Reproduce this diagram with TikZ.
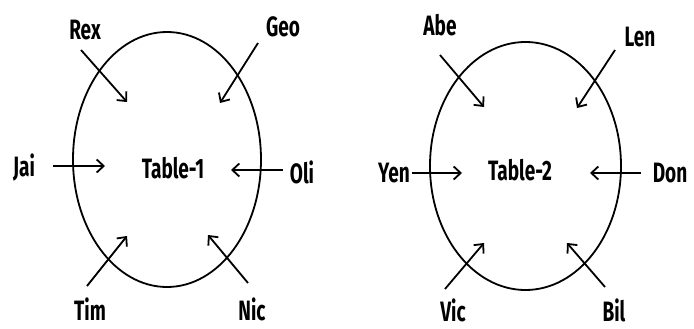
\documentclass[tikz,border=0pt]{standalone}
\usepackage{fontspec}
\newfontfamily\labfont[FakeStretch=0.68]{Fira Sans}
\usetikzlibrary{arrows.meta}
\begin{document}
\begin{tikzpicture}[x=1pt,y=-1pt,
  lab/.style={font=\labfont\bfseries\fontsize{28}{28}\selectfont, inner sep=0pt},
  seat/.style={line width=1.8pt, -{Straight Barb[length=7pt,width=13pt,line width=1.8pt]}}]
\useasboundingbox (0,0) rectangle (694,329);
% Table 1
\draw[line width=1.8pt] (167,159.5) ellipse [x radius=94, y radius=127.5];
\node[lab] (t1) at (173,168) {Table-1};
\node[lab] (rex) at (85,30) {Rex};
\node[lab] (geo) at (283,27) {Geo};
\node[lab] (jai) at (24,168) {Jai};
\node[lab] (oli) at (302,172) {Oli};
\node[lab] (tim) at (90,309) {Tim};
\node[lab] (nic) at (252,309) {Nic};
\coordinate (rexa) at (81,50);  \coordinate (rexb) at (127,102);
\coordinate (geoa) at (258,43); \coordinate (geob) at (220,103);
\coordinate (jaia) at (53,166); \coordinate (jaib) at (105,166);
\coordinate (olia) at (283,170);\coordinate (olib) at (231,170);
\coordinate (tima) at (87,286); \coordinate (timb) at (127,236);
\coordinate (nica) at (248,283);\coordinate (nicb) at (208,235);
\draw[seat] (rexa) -- (rexb);
\draw[seat] (geoa) -- (geob);
\draw[seat] (jaia) -- (jaib);
\draw[seat] (olia) -- (olib);
\draw[seat] (tima) -- (timb);
\draw[seat] (nica) -- (nicb);
% Table 2
\draw[line width=1.8pt] (525.5,166) ellipse [x radius=95.5, y radius=124];
\node[lab] (t2) at (520,170) {Table-2};
\node[lab] (abe) at (440,25) {Abe};
\node[lab] (len) at (640,37) {Len};
\node[lab] (yen) at (394,173) {Yen};
\node[lab] (don) at (670,173) {Don};
\node[lab] (vic) at (453,310) {Vic};
\node[lab] (bil) at (614,310) {Bil};
\coordinate (abea) at (440,55); \coordinate (abeb) at (484,107);
\coordinate (lena) at (615,50); \coordinate (lenb) at (577,108);
\coordinate (yena) at (412,173);\coordinate (yenb) at (462,173);
\coordinate (dona) at (641,173);\coordinate (donb) at (590,173);
\coordinate (vica) at (445,289);\coordinate (vicb) at (484,243);
\coordinate (bila) at (605,287);\coordinate (bilb) at (567,243);
\draw[seat] (abea) -- (abeb);
\draw[seat] (lena) -- (lenb);
\draw[seat] (yena) -- (yenb);
\draw[seat] (dona) -- (donb);
\draw[seat] (vica) -- (vicb);
\draw[seat] (bila) -- (bilb);
\end{tikzpicture}
\end{document}
